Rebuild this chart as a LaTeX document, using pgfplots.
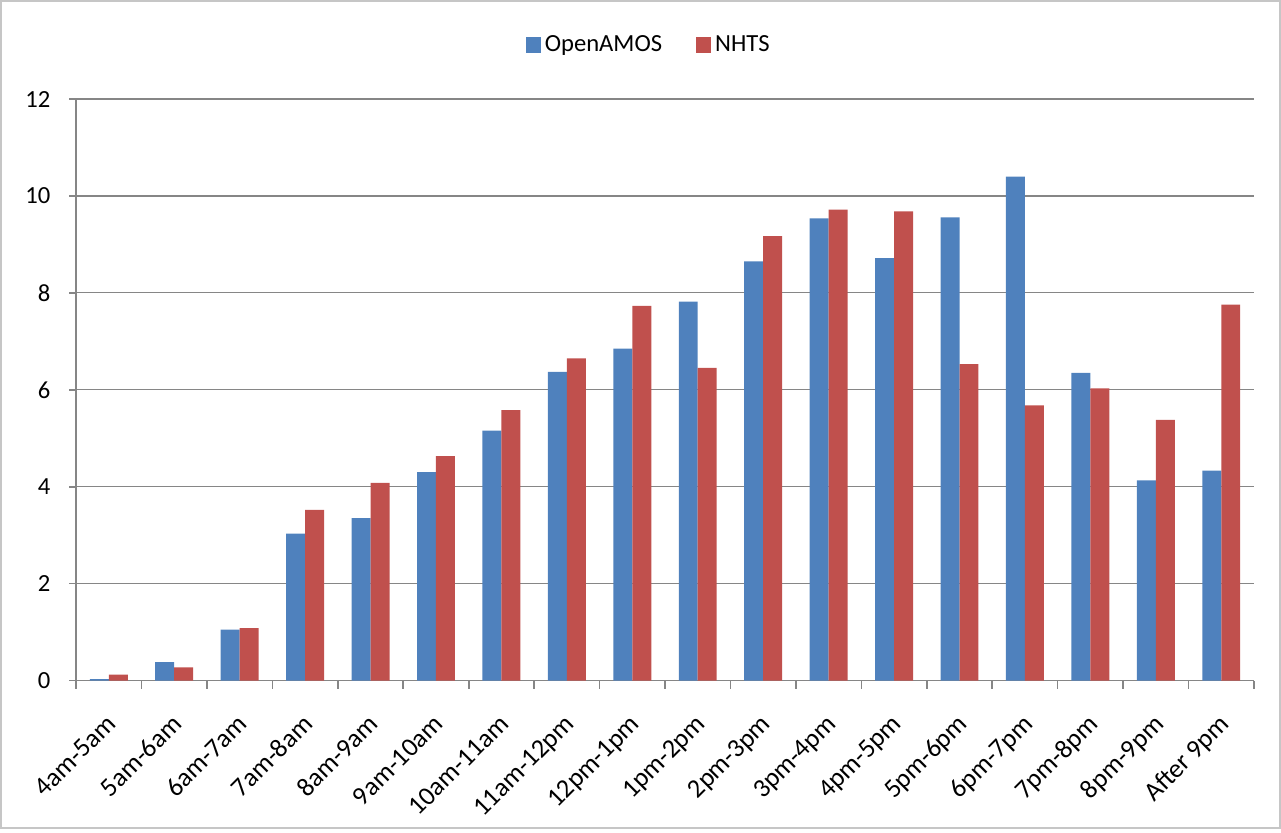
\documentclass[border=0pt]{standalone}
\usepackage{pgfplots}
\pgfplotsset{compat=1.18}
\usepackage{fontspec}
\setmainfont{Carlito}
\definecolor{blueS}{HTML}{4F81BD}
\definecolor{redS}{HTML}{C0504D}
\definecolor{axgray}{HTML}{868686}
\begin{document}
\fontsize{12.3}{14}\selectfont
\begin{tikzpicture}
\begin{axis}[
  name=ax,
  scale only axis,
  width=588.5pt, height=290.5pt,
  ybar=0pt, bar width=0.29,
  xmin=-0.5, xmax=17.5,
  ymin=0, ymax=12,
  ytick={0,2,...,12},
  xtick={0,...,17},
  xticklabels={4am-5am,5am-6am,6am-7am,7am-8am,8am-9am,9am-10am,10am-11am,11am-12pm,12pm-1pm,1pm-2pm,2pm-3pm,3pm-4pm,4pm-5pm,5pm-6pm,6pm-7pm,7pm-8pm,8pm-9pm,After 9pm},
  minor xtick={-0.5,0.5,...,17.5},
  major x tick style={draw=none},
  x tick style={axgray, line width=0.8pt},
  y tick style={axgray, line width=0.8pt},
  minor tick length=4pt,
  major tick length=3.5pt,
  tick align=outside,
  axis x line*=bottom, axis y line*=left,
  axis line style={axgray, line width=0.8pt, -},
  ymajorgrids, major grid style={axgray, line width=0.6pt},
  xticklabel style={rotate=45, anchor=north east, font=\fontsize{13.2}{15}\selectfont, xshift=-6pt, yshift=-3.5pt},
  yticklabel style={font=\fontsize{12.3}{14}\selectfont, xshift=-5pt},
  /pgf/number format/assume math mode=true,
  legend style={at={(0.487,1.093)}, anchor=center, draw=none, legend columns=2,
    font=\fontsize{12.3}{14}\selectfont, /tikz/every even column/.append style={column sep=15pt}},
  legend image code/.code={\fill[#1] (0pt,-3.75pt) rectangle (7.5pt,3.75pt);},
]
\addplot[fill=blueS, draw=none] coordinates {
(0,0.03) (1,0.38) (2,1.05) (3,3.03) (4,3.35) (5,4.30) (6,5.16) (7,6.37) (8,6.85)
(9,7.82) (10,8.65) (11,9.54) (12,8.72) (13,9.56) (14,10.40) (15,6.35) (16,4.13) (17,4.33)};
\addplot[fill=redS, draw=none] coordinates {
(0,0.12) (1,0.27) (2,1.08) (3,3.52) (4,4.08) (5,4.63) (6,5.58) (7,6.65) (8,7.73)
(9,6.45) (10,9.17) (11,9.72) (12,9.68) (13,6.53) (14,5.68) (15,6.03) (16,5.38) (17,7.76)};
\legend{OpenAMOS, NHTS}
\end{axis}
\draw[gray!45, line width=0.8pt] ([shift={(-37.6pt,-73.6pt)}]ax.south west) rectangle ([shift={(601.6pt,339.6pt)}]ax.south west);
\useasboundingbox ([shift={(-38pt,-74pt)}]ax.south west) rectangle ([shift={(602pt,340pt)}]ax.south west);
\end{tikzpicture}
\end{document}
